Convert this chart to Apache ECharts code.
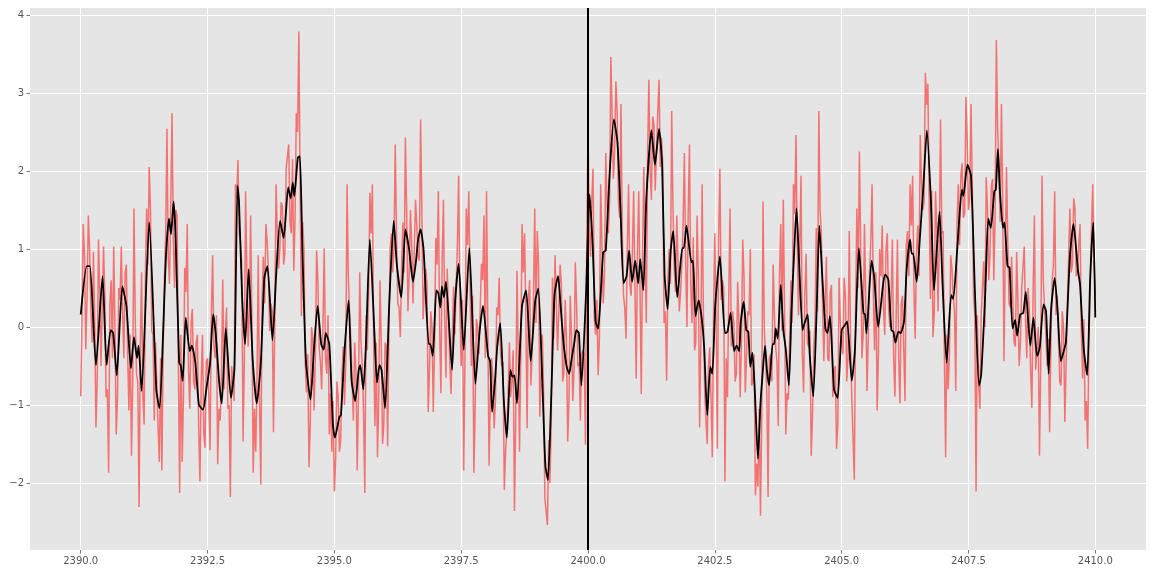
<!DOCTYPE html>
<html>
<head>
<meta charset="utf-8">
<script src="https://cdn.jsdelivr.net/npm/echarts@6/dist/echarts.min.js"></script>
<style>
  html, body { margin: 0; padding: 0; background: #ffffff; }
  #chart { width: 1152px; height: 575px; }
</style>
</head>
<body>
<div id="chart"></div>
<script>
// raw signal, sampled every 0.05 starting at 2390
const rawStart = 2390;
const rawStep = 0.05;
const raw = [
  -0.89, 1.32, -0.29, 1.43, 0.25, 0.96, -1.29, 1.12, -0.5, 1.03,
  -0.9, -1.87, 0.6, 1.03, -1.38, 0.5, 1.03, -0.4, 0.8, -1.07,
  -1.65, 1.52, -0.6, -2.31, 0.7, -1.25, 1.52, 2.05, -0.05, -1.2,
  -0.2, -1.73, -1.84, 0.6, 2.54, 0.55,
  2.74, 0.5, 1.43, -2.13, -1.73, 0.76, 1.32, -1.05, 0.23, -0.8,
  -0.1, -1.98, -0.1, -1.55, -0.4, -1.58, 0.92, -0.4, -1.76, -1.2,
  0.61, -0.08, -1.05, -2.18, -0.7, 1.83, 2.14, 1.1, -1.47, 1.74,
  -0.25, 1.43, -1.87, -1.6, 0.92, -2.02, 0.9,
  1.32, 0.7, 0.3, -1.35, 1.83, 0.75, 1.6, 0.8, 2.03, 2.34,
  1.2, 0.72, 2.74, 3.79, 0.14, 1.0, -0.84, -1.8, 0.0, -1.07,
  0.98, -0.26, -0.8, 1.01, -0.6, -1.38, -1.6, -2.11, -0.7, -1.6,
  -0.62, -1.0, 1.83, 0.2, -0.7, -0.2, -1.84, 0.7,
  -0.5, -2.13, -0.3, 1.72, 1.83, -1.27, -1.67, 0.6, -1.5, -0.2,
  -1.53, 1.01, 0.7, 2.34, 0.3, -0.13, 1.34, 2.43, 0.2, 1.5,
  0.3, 1.63, 0.9, 2.66, 0.1, 0.75, -1.09, 0.2, -1.09, 1.14,
  1.74, -0.85, 1.63, -0.65, 0.16, -0.86, 0.52,
  0.5, 1.94, -0.5, -1.84, 1.52, 1.74, -0.5, -1.87, 0.1, -0.35,
  0.81, 1.43, 1.74, -1.78, -0.4, -1.3, 0.25, 0.63, -0.5, -2.09,
  -1.3, -0.2, -0.7, -2.36, 0.72, -1.6, 1.32, 1.2, -1.3, 0.6,
  -0.3, 1.52, 1.23, -1.15, -0.1, -2.2, -2.54, -2.0,
  0.63, 0.92, -0.3, 0.8, -0.7, 0.35, -1.47, 0.4, -0.95, 0.83,
  -0.5, -1.2, -0.3, -1.51, 2.54, 0.9, 2.03, -0.1, -0.62, 1.83,
  0.3, 2.23, 1.2, 3.46, 1.9, 3.15, 1.6, 2.86, 0.4, -0.15,
  1.83, 0.4, 1.74, -0.66, 1.74, -0.86, 2.05,
  0.05, 3.17, 1.63, 2.6, 1.75, 3.17, 2.43, 0.05, -0.69, 1.0,
  2.77, 0.75, 1.43, 0.2, 0.8, 2.23, 0.0, 2.34, 0.05, -0.3,
  1.43, -1.29, 1.83, -0.8, -1.5, -0.26, -1.67, 1.2, -1.56, 2.03,
  0.6, -1.98, -0.9, 1.52, 0.2, -0.7, 0.58, -0.9,
  1.12, -0.84, 0.2, 1.0, -0.7, -2.16, -2.05, -2.42, 1.61, -0.4,
  -2.18, -0.35, 0.8, -0.26, -1.27, 1.32, 1.63, -1.38, -0.93, 0.6,
  1.83, 2.46, 0.15, 1.94, -0.84, 0.94, -0.26, -1.65, -0.3, 1.27,
  2.77, 1.2, -0.44, 0.9, -0.44, 0.54, -0.57, -1.56,
  0.63, -0.2, 0.63, -0.7, 1.23, -0.9, -1.96, 1.52, 2.25, -0.4,
  1.32, -0.82, 0.7, 1.83, -0.3, -1.07, 1.0, 1.3, -0.1, 1.2,
  0.0, 1.12, -0.89, 1.12, -0.98, 0.4, -0.95, 1.23, 1.83, 1.94,
  -0.15, 1.3, 2.46, 1.5, 3.26, 3.12, 0.36,
  -0.13, 1.74, 0.2, 2.66, 1.23, -1.67, -0.8, 0.92, 0.4, -0.82,
  1.83, 1.94, 1.4, 2.95, 1.5, 2.86, 0.4, -2.11, -0.7, 0.14,
  0.84, 1.92, 0.6, 1.8, 0.6, 3.68, 2.1, 2.86, -0.44, 2.05,
  0.3, 0.9, -0.2, 0.96, -0.5, 0.5, 1.03,
  -0.4, 0.2, -1.04, 1.43, -0.3, -1.65, 1.94, 0.6, -0.5, -1.35,
  0.6, 1.74, 0.4, -0.7, 0.2, -1.22, 0.3, 1.52, 0.8, 1.52,
  0.7, 1.32, -0.66, -1.2, -1.56, 0.5, 1.83, 0.4
];

// raw signal between those samples (at 2390.025, 2390.075, ...)
const rawMid = [
  0.1, 0.9, 0.4, 1.0, -0.2, 0.1, -0.7, 0.5, 0.3, 0.4,
  -0.8, 0.3, -0.4, 0.0, -0.9, 0.35, 0.2, 0.7, -0.35, -0.1,
  -0.7, 0.1, -0.7, -0.25, -0.9, 0.7, 0.8, 1.5, -0.1, -0.2,
  -1.3, -0.4, -0.3, 1.2, 0.9, 1.6, 1.1, 1.5, -0.5, -0.1,
  -0.9, 0.45, -0.55, 0.05, -0.7, -0.2, -1.3, -0.7, -1.35, -0.45,
  -0.9, 0.15, -0.25, 0.15, -1.05, -0.6, -0.8, 0.25, -1.0, -0.5,
  -0.95, 1.65, 1.2, 0.8, -0.45, 0.7, 0.2, 0.05, -1.05, -0.65,
  -0.95, 0.35, 0.3, 1.1, -0.05, 0.2, 0.05, 1.2, 1.0, 1.55,
  0.95, 2.05, 1.35, 2.15, 1.4, 2.5, 1.8, 1.35, -0.45, -0.35,
  -1.25, -0.15, -0.4, 0.6, -0.45, 0.05, -0.4, 0.15, -0.85, -0.95,
  -1.7, -0.9, -1.45, -0.25, -0.45, 0.65, -0.15, -1.2, -0.55, -0.9,
  -0.2, -1.1, 0.15, 0.4, 1.2, -0.25, -0.2, -0.9, -0.2, -1.25,
  -0.25, -0.15, 1.2, 1.0, 1.2, 0.25, 0.75, 0.7, 1.5, 0.65,
  1.05, 0.3, 1.3, 0.85, 1.5, 0.5, 0.55, -0.55, 0.0, -0.2,
  0.8, 0.0, 0.85, 0.1, 0.75, -0.45, -0.15, -0.1, 1.05, 0.25,
  0.35, -0.4, 1.05, 0.55, 0.4, -1.05, 0.0, -0.35, 0.6, -0.4,
  0.0, -0.85, -0.65, -0.95, 0.15, -0.35, -0.45, -1.6, -0.85, -0.9,
  -0.3, -1.15, -0.35, -0.35, 0.7, 0.1, 0.35, -0.75, 0.35, 0.05,
  0.8, -0.65, -0.85, -2.2, -1.45, -1.25, -0.15, 0.9, 0.2, 0.55,
  -0.6, -0.15, -0.95, -0.1, -0.55, 0.3, -0.45, -0.35, -0.35, 1.0,
  1.25, 1.65, 0.1, 0.35, -0.15, 1.05, 0.65, 1.6, 1.6, 2.75,
  2.25, 2.75, 1.4, 1.25, 0.25, 1.05, 0.55, 0.95, 0.5, 0.95,
  0.5, 0.9, 0.85, 2.2, 2.0, 2.7, 1.75, 2.75, 2.05, 2.05,
  0.2, 0.6, 0.55, 1.55, 0.45, 0.8, 0.45, 1.35, 0.85, 1.45,
  0.55, 1.15, -0.2, 0.65, -0.15, 0.15, -1.2, -0.5, -0.9, 0.15,
  0.05, 1.15, 0.35, 0.5, -0.4, 0.4, -0.25, 0.05, -0.6, 0.05,
  -0.2, 0.65, -0.4, 0.15, -0.75, -0.35, -1.75, -1.05, -1.15, 0.0,
  -0.85, -0.4, -0.7, 0.15, -0.45, 0.65, -0.05, 0.2, -0.85, -0.15,
  0.05, 1.45, 1.05, 1.05, -0.35, 0.4, -0.2, -0.05, -1.15, 0.05,
  0.2, 1.5, 0.25, 0.35, -0.4, 0.45, -0.9, -0.5, -1.25, 0.05,
  -0.35, 0.4, -0.4, -0.15, -0.9, 0.2, 0.5, 1.05, -0.1, 0.4,
  -0.15, 1.1, 0.4, 0.7, -0.35, 0.65, 0.25, 1.0, 0.25, 0.35,
  -0.4, 0.15, -0.4, 0.3, -0.3, 1.05, 0.65, 1.3, 0.5, 0.95,
  0.65, 1.85, 1.6, 2.85, 1.65, 1.75, 0.15, 1.3, 1.1, 1.2,
  -0.35, -0.1, -0.35, 0.75, 0.2, 1.35, 1.05, 2.1, 1.45, 2.4,
  1.65, 1.85, 0.15, 0.15, -1.05, 0.15, 0.0, 1.55, 0.95, 1.9,
  1.4, 2.55, 1.35, 1.65, 0.9, 1.1, 0.25, 0.35, -0.25, 0.3,
  -0.2, 0.5, 0.1, 0.5, -0.55, 0.45, -0.55, 0.0, -0.5, 0.6,
  -0.1, -0.15, -0.2, 0.8, 0.15, 0.4, -0.75, 0.0, -0.5, 0.9,
  0.7, 1.65, 0.65, 1.05, -0.05, 0.1, -0.95, -0.15, 1.25, 0.85
];

// smoothed signal [x, y]
const smoothed = [
  [2390.00, 0.16], [2390.12, 0.78], [2390.18, 0.78], [2390.30, -0.49], [2390.43, 0.65],
  [2390.51, -0.49], [2390.59, -0.04], [2390.64, -0.08], [2390.71, -0.62], [2390.82, 0.52],
  [2390.90, 0.27], [2390.99, -0.53], [2391.05, -0.13], [2391.11, -0.40], [2391.14, -0.24],
  [2391.20, -0.82], [2391.35, 1.34], [2391.49, -0.80], [2391.55, -1.04], [2391.68, 0.90],
  [2391.74, 1.39], [2391.78, 1.19], [2391.83, 1.61], [2391.87, 1.16], [2391.94, -0.46],
  [2391.97, -0.49], [2392.01, -0.69], [2392.07, 0.12], [2392.15, -0.31], [2392.19, -0.24],
  [2392.26, -0.46], [2392.33, -1.00], [2392.41, -1.06], [2392.48, -0.78], [2392.55, -0.46],
  [2392.61, 0.16], [2392.66, -0.08], [2392.73, -0.71], [2392.78, -0.98], [2392.86, -0.02],
  [2392.96, -0.91], [2393.03, -0.53], [2393.09, 1.81], [2393.12, 1.61], [2393.18, 0.41],
  [2393.24, -0.22], [2393.31, 0.74], [2393.39, -0.42], [2393.47, -0.98], [2393.55, -0.46],
  [2393.62, 0.63], [2393.68, 0.78], [2393.78, -0.17], [2393.85, 0.63], [2393.93, 1.36],
  [2394.00, 1.14], [2394.09, 1.79], [2394.14, 1.65], [2394.18, 1.85], [2394.21, 1.68],
  [2394.28, 2.17], [2394.32, 2.19], [2394.37, 0.98], [2394.44, -0.44], [2394.53, -0.93],
  [2394.60, -0.26], [2394.67, 0.27], [2394.74, -0.22], [2394.79, -0.29], [2394.83, -0.08],
  [2394.90, -0.22], [2394.97, -1.24], [2395.01, -1.42], [2395.10, -1.15], [2395.13, -1.13],
  [2395.20, -0.31], [2395.28, 0.34], [2395.34, -0.69], [2395.41, -0.95], [2395.48, -0.55],
  [2395.51, -0.49], [2395.57, -0.80], [2395.62, -0.26], [2395.70, 1.12], [2395.79, -0.08],
  [2395.84, -0.71], [2395.89, -0.49], [2395.93, -0.55], [2396.00, -1.04], [2396.08, 0.27],
  [2396.17, 1.36], [2396.23, 0.81], [2396.32, 0.38], [2396.40, 1.25], [2396.47, 1.01],
  [2396.55, 0.58], [2396.61, 0.85], [2396.65, 1.12], [2396.70, 1.25], [2396.76, 0.98],
  [2396.86, -0.22], [2396.89, -0.22], [2396.94, -0.37], [2397.01, 0.47], [2397.05, 0.43],
  [2397.09, 0.25], [2397.12, 0.52], [2397.16, 0.38], [2397.20, 0.58], [2397.32, -0.55],
  [2397.38, 0.32], [2397.45, 0.81], [2397.55, -0.29], [2397.66, 1.01], [2397.78, -0.73],
  [2397.86, -0.08], [2397.93, 0.27], [2398.03, -0.37], [2398.07, -0.44], [2398.11, -1.09],
  [2398.17, -0.66], [2398.21, -0.26], [2398.27, 0.05], [2398.34, -0.93], [2398.40, -1.42],
  [2398.47, -0.55], [2398.51, -0.64], [2398.55, -0.62], [2398.60, -0.98], [2398.70, 0.27],
  [2398.78, 0.47], [2398.87, -0.44], [2398.96, 0.34], [2399.02, 0.49], [2399.09, -0.53],
  [2399.16, -1.78], [2399.21, -1.96], [2399.28, -0.80], [2399.34, 0.41], [2399.41, 0.65],
  [2399.46, 0.27], [2399.52, -0.22], [2399.58, -0.51], [2399.63, -0.60], [2399.67, -0.44],
  [2399.73, -0.20], [2399.77, -0.04], [2399.82, -0.08], [2399.87, -0.75], [2399.96, 0.41],
  [2400.03, 1.70], [2400.09, 1.07], [2400.15, 0.07], [2400.20, -0.02], [2400.25, 0.41],
  [2400.30, 0.96], [2400.35, 0.98], [2400.43, 2.01], [2400.51, 2.66], [2400.58, 2.37],
  [2400.64, 1.52], [2400.70, 0.56], [2400.76, 0.65], [2400.81, 0.98], [2400.87, 0.58],
  [2400.93, 0.85], [2400.99, 0.56], [2401.03, 0.87], [2401.09, 0.47], [2401.15, 1.65],
  [2401.25, 2.52], [2401.32, 2.08], [2401.40, 2.54], [2401.46, 2.10], [2401.51, 0.67],
  [2401.57, 0.23], [2401.63, 0.98], [2401.68, 1.23], [2401.76, 0.38], [2401.86, 1.01],
  [2401.89, 1.01], [2401.94, 1.30], [2402.04, 0.83], [2402.07, 0.85], [2402.12, 0.14],
  [2402.18, 0.34], [2402.24, 0.12], [2402.29, -0.26], [2402.35, -1.13], [2402.41, -0.51],
  [2402.45, -0.60], [2402.51, 0.29], [2402.60, 0.90], [2402.70, -0.08], [2402.75, -0.06],
  [2402.81, 0.18], [2402.88, -0.31], [2402.93, -0.24], [2402.98, -0.31], [2403.01, 0.05],
  [2403.07, 0.32], [2403.12, -0.04], [2403.16, -0.06], [2403.20, -0.51], [2403.24, -0.33],
  [2403.29, -0.84], [2403.35, -1.69], [2403.40, -0.98], [2403.44, -0.62], [2403.49, -0.24],
  [2403.53, -0.57], [2403.57, -0.75], [2403.64, -0.22], [2403.67, -0.22], [2403.70, -0.02],
  [2403.74, -0.15], [2403.80, 0.54], [2403.85, -0.04], [2403.90, -0.29], [2403.96, -0.75],
  [2404.01, 0.18], [2404.06, 0.90], [2404.11, 1.52], [2404.16, 0.85], [2404.23, -0.04],
  [2404.27, 0.05], [2404.33, 0.16], [2404.37, -0.35], [2404.44, -0.89], [2404.51, 0.27],
  [2404.56, 1.30], [2404.62, 0.63], [2404.68, -0.02], [2404.72, -0.08], [2404.77, 0.14],
  [2404.85, -0.80], [2404.92, -0.91], [2405.00, -0.04], [2405.07, 0.03], [2405.11, 0.07],
  [2405.20, -0.69], [2405.26, -0.31], [2405.34, 1.01], [2405.43, 0.18], [2405.46, 0.16],
  [2405.49, -0.08], [2405.59, 0.85], [2405.64, 0.65], [2405.72, 0.00], [2405.82, 0.56],
  [2405.86, 0.67], [2405.92, 0.61], [2405.98, -0.04], [2406.02, -0.06], [2406.06, -0.20],
  [2406.12, -0.06], [2406.16, -0.08], [2406.23, 0.07], [2406.28, 0.72], [2406.35, 1.12],
  [2406.38, 0.94], [2406.41, 0.94], [2406.48, 0.58], [2406.54, 1.12], [2406.61, 1.79],
  [2406.68, 2.52], [2406.76, 1.61], [2406.82, 0.47], [2406.88, 1.03], [2406.93, 1.48],
  [2406.99, 0.54], [2407.07, -0.46], [2407.16, 0.41], [2407.20, 0.36], [2407.28, 1.01],
  [2407.37, 1.76], [2407.40, 1.68], [2407.48, 2.08], [2407.55, 1.94], [2407.63, 0.41],
  [2407.71, -0.75], [2407.75, -0.62], [2407.83, 0.41], [2407.89, 1.39], [2407.94, 1.27],
  [2408.01, 1.74], [2408.04, 1.76], [2408.08, 2.28], [2408.12, 1.74], [2408.18, 1.27],
  [2408.21, 1.34], [2408.27, 0.78], [2408.31, 0.76], [2408.37, -0.02], [2408.42, 0.09],
  [2408.46, -0.11], [2408.52, 0.16], [2408.58, 0.18], [2408.63, 0.45], [2408.72, -0.24],
  [2408.78, 0.12], [2408.85, -0.37], [2408.88, -0.33], [2408.91, -0.24], [2408.98, 0.29],
  [2409.03, 0.20], [2409.08, -0.60], [2409.13, 0.23], [2409.20, 0.63], [2409.26, 0.18],
  [2409.32, -0.44], [2409.37, -0.33], [2409.42, -0.20], [2409.50, 0.90], [2409.57, 1.32],
  [2409.66, 0.72], [2409.70, 0.54], [2409.77, -0.26], [2409.84, -0.62], [2409.90, 0.63],
  [2409.96, 1.34], [2410.00, 0.12]
];

// marker position and tick labels
const markerX = 2400;
const xTicks = [2390, 2392.5, 2395, 2397.5, 2400, 2402.5, 2405, 2407.5, 2410];
const yTicks = [-2, -1, 0, 1, 2, 3, 4];

// put the two sample sets back in time order
const rawData = [];
raw.forEach((v, i) => {
  const x = rawStart + i * rawStep;
  rawData.push([x, v]);
  if (i < rawMid.length) rawData.push([x + rawStep / 2, rawMid[i]]);
});

const myChart = echarts.init(document.getElementById('chart'), null, { renderer: 'canvas' });

const tickFont = { color: '#555555', fontSize: 10, fontFamily: 'DejaVu Sans' };

const option = {
  animation: false,
  backgroundColor: '#ffffff',
  grid: {
    left: 30,
    right: 6,
    top: 8,
    bottom: 25,
    show: true,
    backgroundColor: '#e5e5e5',
    borderWidth: 0
  },
  xAxis: {
    type: 'value',
    min: 2389,
    max: 2411,
    axisLine: { show: false, onZero: false },
    axisTick: {
      show: true,
      length: 3.5,
      customValues: xTicks,
      lineStyle: { color: '#555555', width: 0.8 }
    },
    axisLabel: {
      ...tickFont,
      margin: 6,
      customValues: xTicks,
      formatter: v => v.toFixed(1)
    },
    splitLine: { show: true, lineStyle: { color: '#ffffff', width: 1 } }
  },
  yAxis: {
    type: 'value',
    min: -2.86,
    max: 4.09,
    axisLine: { show: false, onZero: false },
    axisTick: {
      show: true,
      length: 3.5,
      customValues: yTicks,
      lineStyle: { color: '#555555', width: 0.8 }
    },
    axisLabel: {
      ...tickFont,
      margin: 6,
      customValues: yTicks,
      formatter: v => (v < 0 ? '\u2212' + Math.abs(v) : String(v))
    },
    splitLine: { show: true, lineStyle: { color: '#ffffff', width: 1 } }
  },
  series: [
    {
      type: 'line',
      data: rawData,
      showSymbol: false,
      smooth: false,
      lineStyle: { color: '#f27272', width: 1.5 },
      z: 2
    },
    {
      type: 'line',
      data: smoothed,
      showSymbol: false,
      smooth: 0.2,
      lineStyle: { color: '#000000', width: 1.8 },
      z: 3,
      markLine: {
        silent: true,
        symbol: 'none',
        label: { show: false },
        lineStyle: { color: '#000000', width: 2, type: 'solid' },
        data: [{ xAxis: markerX }]
      }
    }
  ]
};

myChart.setOption(option);
</script>
</body>
</html>
